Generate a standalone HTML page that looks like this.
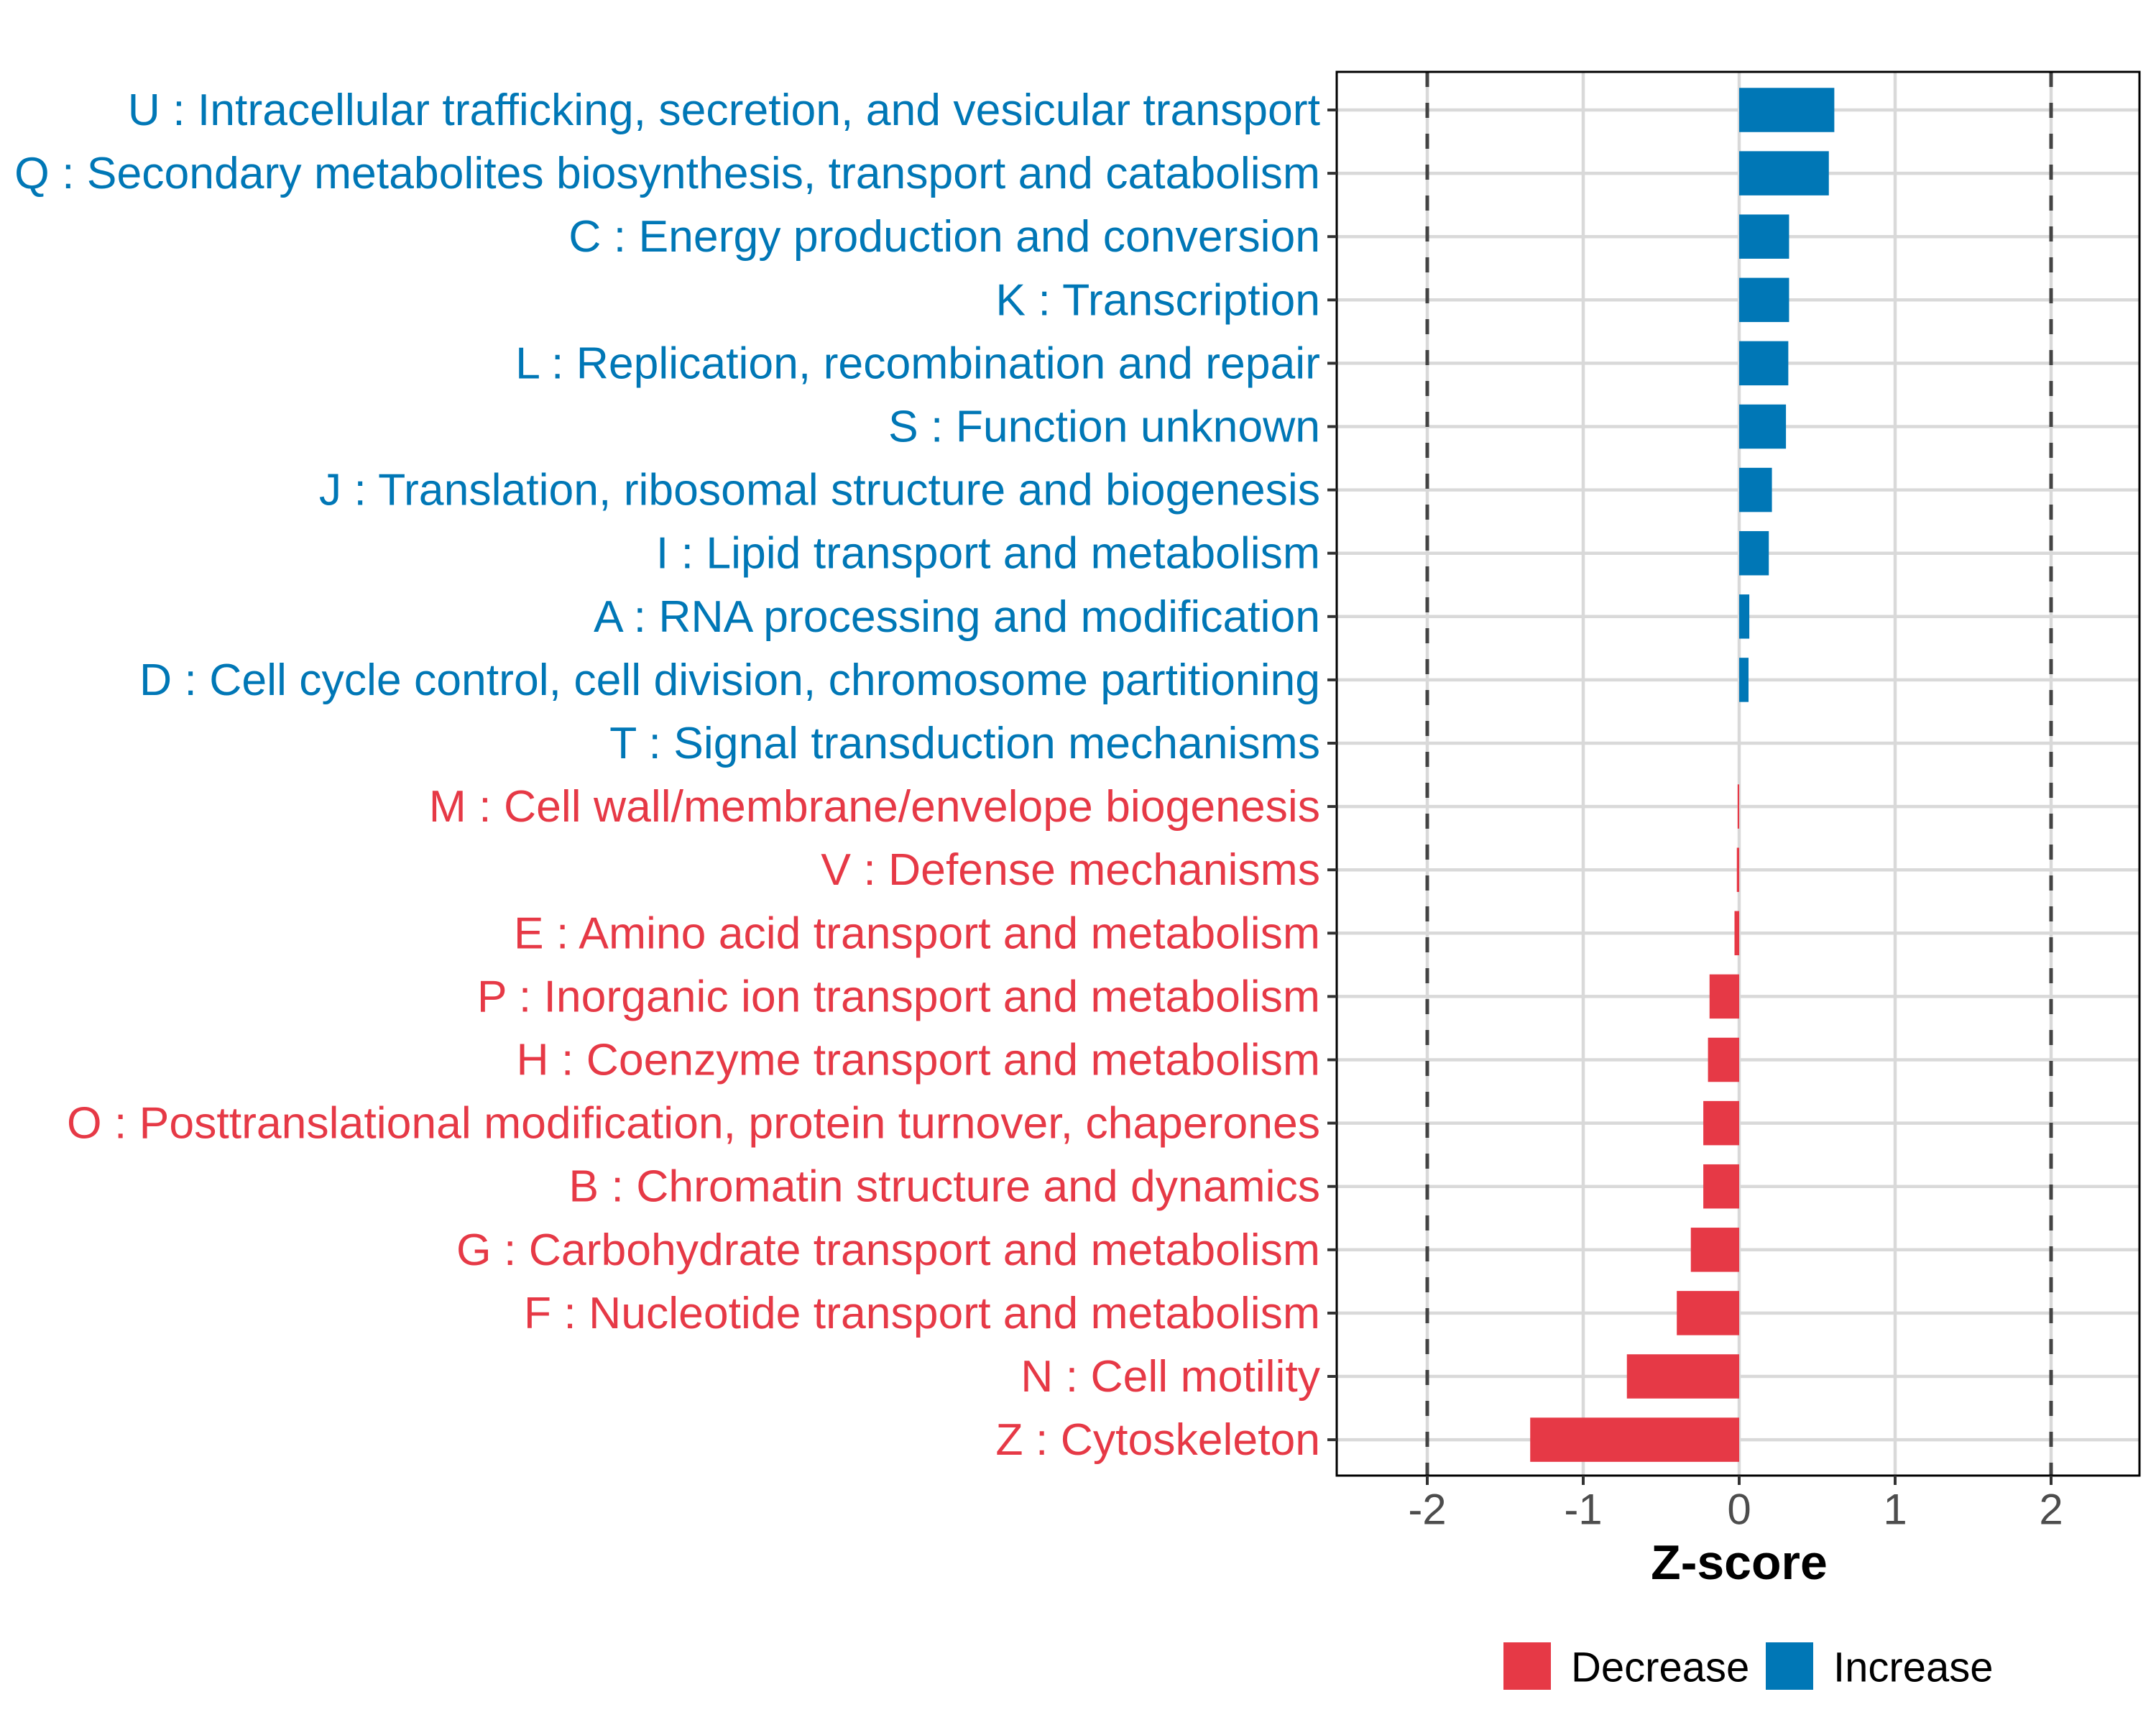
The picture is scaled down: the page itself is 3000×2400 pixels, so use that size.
<!DOCTYPE html>
<html><head><meta charset="utf-8"><style>
html,body{margin:0;padding:0;background:#fff;}
svg{display:block;font-family:"Liberation Sans",Arial,sans-serif;}
</style></head><body>
<svg id="chart" width="3000" height="2400" viewBox="0 0 3000 2400" xmlns="http://www.w3.org/2000/svg">
<rect width="3000" height="2400" fill="#fff"/>
<g id="grid"></g>
<g id="refs"></g>
<g id="bars"></g>
<rect x="1860" y="100" width="1117" height="1953" fill="none" stroke="#000" stroke-width="3"/>
<g id="ylabels"></g>
<g id="xaxis"></g>
<text x="2420" y="2174" text-anchor="middle" dominant-baseline="central" font-size="68" font-weight="bold" fill="#000">Z-score</text>
<g>
<rect x="2092" y="2285" width="66" height="66" fill="#e63946"/>
<text x="2186" y="2320" dominant-baseline="central" font-size="58" fill="#000">Decrease</text>
<rect x="2457" y="2285" width="66" height="66" fill="#0077b6"/>
<text x="2551" y="2320" dominant-baseline="central" font-size="58" fill="#000">Increase</text>
</g>
</svg>
<script>
const categories = [
"U : Intracellular trafficking, secretion, and vesicular transport",
"Q : Secondary metabolites biosynthesis, transport and catabolism",
"C : Energy production and conversion",
"K : Transcription",
"L : Replication, recombination and repair",
"S : Function unknown",
"J : Translation, ribosomal structure and biogenesis",
"I : Lipid transport and metabolism",
"A : RNA processing and modification",
"D : Cell cycle control, cell division, chromosome partitioning",
"T : Signal transduction mechanisms",
"M : Cell wall/membrane/envelope biogenesis",
"V : Defense mechanisms",
"E : Amino acid transport and metabolism",
"P : Inorganic ion transport and metabolism",
"H : Coenzyme transport and metabolism",
"O : Posttranslational modification, protein turnover, chaperones",
"B : Chromatin structure and dynamics",
"G : Carbohydrate transport and metabolism",
"F : Nucleotide transport and metabolism",
"N : Cell motility",
"Z : Cytoskeleton"];
const zscores = [0.61,0.575,0.32,0.32,0.315,0.30,0.21,0.19,0.065,0.06,0,-0.01,-0.015,-0.03,-0.19,-0.2,-0.23,-0.23,-0.31,-0.4,-0.72,-1.34];
const direction = ["Increase","Increase","Increase","Increase","Increase","Increase","Increase","Increase","Increase","Increase","Increase","Decrease","Decrease","Decrease","Decrease","Decrease","Decrease","Decrease","Decrease","Decrease","Decrease","Decrease"];
const xTicks = [-2,-1,0,1,2];
const xTickLabels = ["-2","-1","0","1","2"];
const refLines = [-2,2];

const NS="http://www.w3.org/2000/svg";
const X0=2420, UNIT=217, PL=1860, PR=2977, PT=100, PB=2053;
const ROW0=153, STEP=88.1, BARH=61.5;
const colors={Increase:"#0077b6",Decrease:"#e63946"};
const x=v=>X0+v*UNIT;
const y=i=>ROW0+i*STEP;
function mk(tag,attrs,parent){const e=document.createElementNS(NS,tag);for(const k in attrs)e.setAttribute(k,attrs[k]);parent.appendChild(e);return e;}
const grid=document.getElementById('grid'),refs=document.getElementById('refs'),bars=document.getElementById('bars'),yl=document.getElementById('ylabels'),xa=document.getElementById('xaxis');
xTicks.forEach((t,i)=>{
  const g=mk('line',{x1:x(t),x2:x(t),y1:PT,y2:PB,stroke:'#d9d9d9','stroke-width':4.5},grid);
  
  
  const tk=mk('line',{x1:x(t),x2:x(t),y1:PB,y2:PB+13,stroke:'#333','stroke-width':4},xa);
  
  
  const tl=mk('text',{x:x(t),y:2100,'text-anchor':'middle','dominant-baseline':'central','font-size':60,fill:'#4d4d4d'},xa);
  tl.textContent=xTickLabels[i];
  
  
});
categories.forEach((c,i)=>{
  const g=mk('line',{x1:PL,x2:PR,y1:y(i),y2:y(i),stroke:'#d9d9d9','stroke-width':4.5},grid);
  
  
  const tk=mk('line',{x1:PL-13,x2:PL,y1:y(i),y2:y(i),stroke:'#333','stroke-width':4},yl);
  
  
  const t=mk('text',{x:1837,y:y(i),'text-anchor':'end','dominant-baseline':'central','font-size':62.5,fill:colors[direction[i]]},yl);
  t.textContent=c;
  
  
  const v=zscores[i];
  const b=mk('rect',{x:Math.min(x(0),x(v)),y:y(i)-BARH/2,width:Math.abs(x(v)-x(0)),height:BARH,fill:colors[direction[i]]},bars);
  
  
});
refLines.forEach(r=>{
  const l=mk('line',{x1:x(r),x2:x(r),y1:PT,y2:PB,stroke:'#444','stroke-width':5,'stroke-dasharray':'21 22'},refs);
  
  
});
</script>
</body></html>
